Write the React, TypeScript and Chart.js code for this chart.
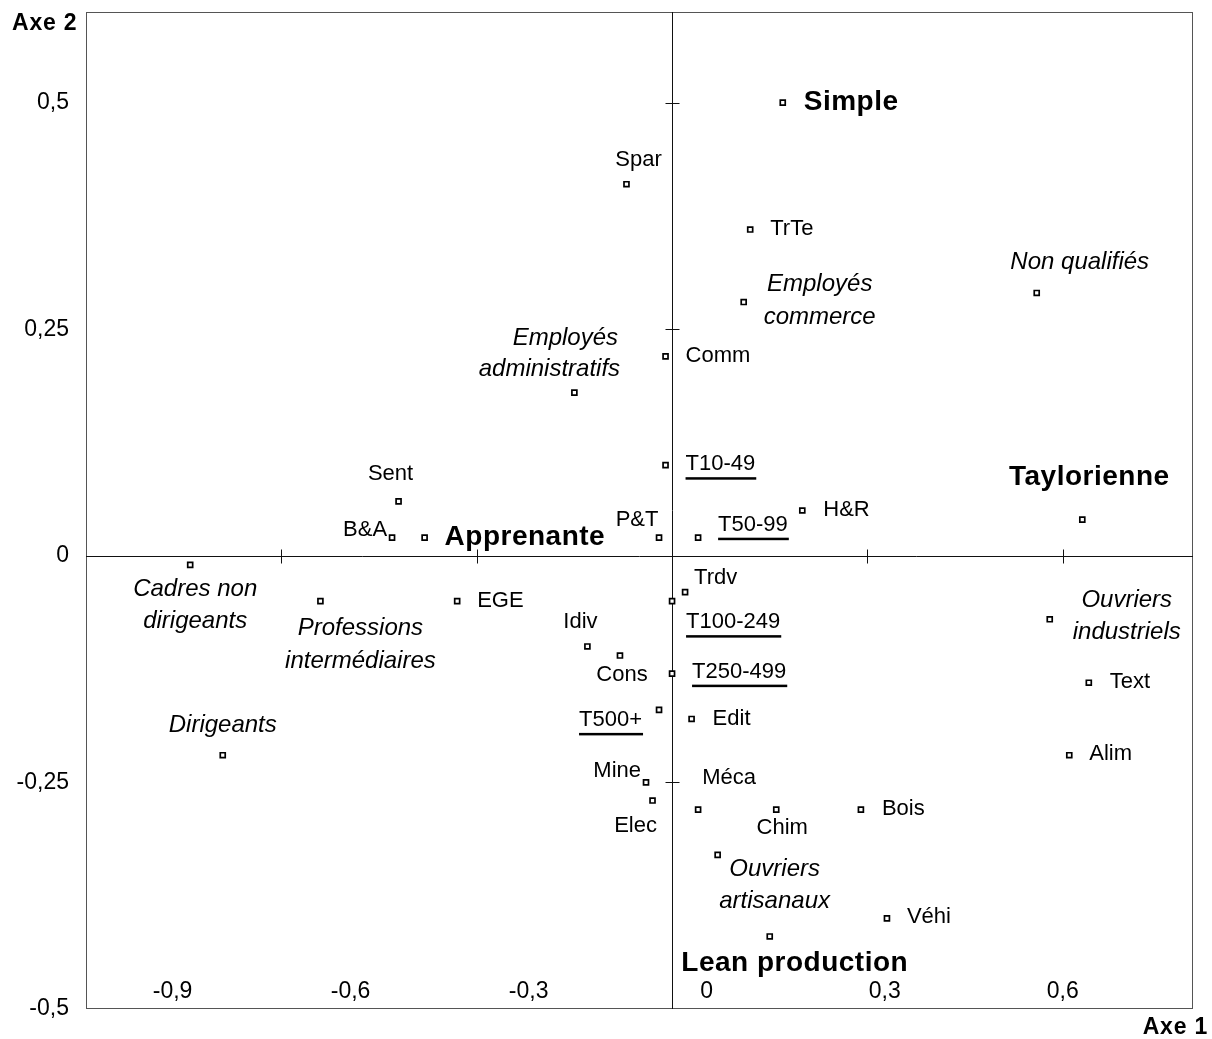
import React, { useEffect, useRef } from "react";
import { Chart, registerables } from "chart.js";

Chart.register(...registerables);

// ---------- DATA ----------
const POINT_NAMES = [
  "Simple", "Spar", "TrTe", "Employés\ncommerce", "Non qualifiés", "Comm",
  "Employés\nadministratifs", "T10-49", "Sent", "H&R", "Taylorienne", "T50-99",
  "P&T", "B&A", "Apprenante", "Cadres non\ndirigeants", "Trdv", "T100-249",
  "Professions\nintermédiaires", "EGE", "Idiv", "Cons", "T250-499",
  "Ouvriers\nindustriels", "Text", "T500+", "Edit", "Alim", "Dirigeants",
  "Mine", "Elec", "Méca", "Chim", "Bois", "Ouvriers\nartisanaux", "Véhi",
  "Lean production",
];

const AXE1_VALUES = [
  0.17, -0.07, 0.12, 0.11, 0.56, -0.01,
  -0.15, -0.01, -0.42, 0.20, 0.63, 0.04,
  -0.02, -0.43, -0.38, -0.74, 0.02, 0.00,
  -0.54, -0.33, -0.13, -0.08, 0.00,
  0.58, 0.64, -0.02, 0.03, 0.61, -0.69,
  -0.04, -0.03, 0.04, 0.16, 0.29, 0.07, 0.33,
  0.15,
];

const AXE2_VALUES = [
  0.50, 0.41, 0.36, 0.28, 0.29, 0.22,
  0.18, 0.10, 0.06, 0.05, 0.04, 0.02,
  0.02, 0.02, 0.02, -0.01, -0.04, -0.05,
  -0.05, -0.05, -0.10, -0.11, -0.13,
  -0.07, -0.14, -0.17, -0.18, -0.22, -0.22,
  -0.25, -0.27, -0.28, -0.28, -0.28, -0.33, -0.40,
  -0.42,
];

// kind of label: b = bold (organisation type), i = italic (occupation), u = underlined (size), n = plain (sector)
const POINT_KINDS = [
  "b", "n", "n", "i", "i", "n",
  "i", "u", "n", "n", "b", "u",
  "n", "n", "b", "i", "n", "u",
  "i", "n", "n", "n", "u",
  "i", "n", "u", "n", "n", "i",
  "n", "n", "n", "n", "n", "i", "n",
  "b",
];

const X_TICKS = [-0.9, -0.6, -0.3, 0, 0.3, 0.6];
const Y_TICKS = [-0.5, -0.25, 0, 0.25, 0.5];
const X_TICK_LABELS = ["-0,9", "-0,6", "-0,3", "0", "0,3", "0,6"];
const Y_TICK_LABELS = ["-0,5", "-0,25", "0", "0,25", "0,5"];
const X_AXIS_TITLE = "Axe 1";
const Y_AXIS_TITLE = "Axe 2";

// ---------- LAYOUT (label placement relative to markers, in px) ----------
type Lay = { dx: number; dy: number; align: CanvasTextAlign; lh?: number; lineDx?: number[] };
const LABEL_LAYOUT: Record<string, Lay> = {
  "Simple": { dx: 21, dy: 0, align: "left" },
  "Spar": { dx: 12, dy: -24, align: "center" },
  "TrTe": { dx: 20, dy: -1, align: "left" },
  "Employés\ncommerce": { dx: 76, dy: -18, align: "center", lh: 33 },
  "Non qualifiés": { dx: 43, dy: -31, align: "center" },
  "Comm": { dx: 20, dy: 0, align: "left" },
  "Employés\nadministratifs": { dx: 0, dy: -54, align: "center", lh: 31, lineDx: [-9, -25] },
  "T10-49": { dx: 20, dy: -1, align: "left" },
  "Sent": { dx: -8, dy: -27, align: "center" },
  "H&R": { dx: 21, dy: -1, align: "left" },
  "Taylorienne": { dx: 7, dy: -42, align: "center" },
  "T50-99": { dx: 20, dy: -13, align: "left" },
  "P&T": { dx: -22, dy: -18, align: "center" },
  "B&A": { dx: -5, dy: -8, align: "right" },
  "Apprenante": { dx: 20, dy: 0, align: "left" },
  "Cadres non\ndirigeants": { dx: 5, dy: 24, align: "center", lh: 32 },
  "Trdv": { dx: 9, dy: -14, align: "left" },
  "T100-249": { dx: 14, dy: 21, align: "left" },
  "Professions\nintermédiaires": { dx: 40, dy: 27, align: "center", lh: 33 },
  "EGE": { dx: 20, dy: 0, align: "left" },
  "Idiv": { dx: -7, dy: -25, align: "center" },
  "Cons": { dx: 2, dy: 19, align: "center" },
  "T250-499": { dx: 20, dy: -2, align: "left" },
  "Ouvriers\nindustriels": { dx: 77, dy: -19, align: "center", lh: 32 },
  "Text": { dx: 21, dy: -1, align: "left" },
  "T500+": { dx: -17, dy: 10, align: "right" },
  "Edit": { dx: 21, dy: 0, align: "left" },
  "Alim": { dx: 20, dy: -1, align: "left" },
  "Dirigeants": { dx: 0, dy: -30, align: "center" },
  "Mine": { dx: -5, dy: -11, align: "right" },
  "Elec": { dx: -17, dy: 25, align: "center" },
  "Méca": { dx: 31, dy: -32, align: "center" },
  "Chim": { dx: 6, dy: 18, align: "center" },
  "Bois": { dx: 21, dy: -1, align: "left" },
  "Ouvriers\nartisanaux": { dx: 57, dy: 14, align: "center", lh: 32 },
  "Véhi": { dx: 20, dy: -1, align: "left" },
  "Lean production": { dx: 25, dy: 27, align: "center" },
};

const FONT = '"Liberation Sans", Arial, Helvetica, sans-serif';

function fontFor(kind: string) {
  if (kind === "b") return `bold 28px ${FONT}`;
  if (kind === "i") return `italic 24px ${FONT}`;
  return `22px ${FONT}`;
}

const decorPlugin = {
  id: "decor",
  beforeDatasetsDraw(chart: any) {
    const { ctx, chartArea: a, scales } = chart;
    const xs = scales.x;
    const ys = scales.y;
    ctx.save();
    // plot border
    ctx.strokeStyle = "#555";
    ctx.lineWidth = 1;
    ctx.strokeRect(a.left + 0.5, a.top + 0.5, a.right - a.left - 1, a.bottom - a.top - 1);

    const x0 = Math.round(xs.getPixelForValue(0)) + 0.5;
    const y0 = Math.round(ys.getPixelForValue(0)) + 0.5;
    ctx.strokeStyle = "#111";
    ctx.beginPath();
    ctx.moveTo(x0, a.top);
    ctx.lineTo(x0, a.bottom);
    ctx.moveTo(a.left, y0);
    ctx.lineTo(a.right, y0);
    // tick marks (cross style)
    X_TICKS.forEach((v) => {
      const px = Math.round(xs.getPixelForValue(v)) + 0.5;
      if (px <= a.left + 2 || px >= a.right - 2) return;
      ctx.moveTo(px, y0 - 7);
      ctx.lineTo(px, y0 + 7);
    });
    Y_TICKS.forEach((v) => {
      const py = Math.round(ys.getPixelForValue(v)) + 0.5;
      if (py <= a.top + 2 || py >= a.bottom - 2) return;
      ctx.moveTo(x0 - 7, py);
      ctx.lineTo(x0 + 7, py);
    });
    ctx.stroke();

    // tick labels
    ctx.fillStyle = "#000";
    ctx.font = `23px ${FONT}`;
    ctx.textBaseline = "middle";
    ctx.textAlign = "right";
    Y_TICKS.forEach((v, i) => {
      ctx.fillText(Y_TICK_LABELS[i], a.left - 17, ys.getPixelForValue(v));
    });
    ctx.textAlign = "center";
    const anchor = xs.getPixelForValue(X_TICKS[X_TICKS.length - 1]);
    const k = 0.9114;
    X_TICKS.forEach((v, i) => {
      const px = xs.getPixelForValue(v) * k + anchor * (1 - k);
      ctx.fillText(X_TICK_LABELS[i], px, a.bottom - 17);
    });

    // axis titles
    ctx.font = `bold 23px ${FONT}`;
    (ctx as any).letterSpacing = "0.8px";
    ctx.textAlign = "left";
    ctx.fillText(Y_AXIS_TITLE, 12, 24);
    ctx.textAlign = "right";
    ctx.fillText(X_AXIS_TITLE, 1208, 1028);
    (ctx as any).letterSpacing = "0px";
    ctx.restore();
  },
  afterDatasetsDraw(chart: any) {
    const { ctx } = chart;
    const meta = chart.getDatasetMeta(0);
    ctx.save();
    ctx.fillStyle = "#000";
    ctx.textBaseline = "middle";
    meta.data.forEach((el: any, i: number) => {
      const name = POINT_NAMES[i];
      const kind = POINT_KINDS[i];
      const lay = LABEL_LAYOUT[name];
      if (!lay) return;
      ctx.font = fontFor(kind);
      (ctx as any).letterSpacing = kind === "b" ? "0.5px" : "0px";
      ctx.textAlign = lay.align;
      const lines = name.split("\n");
      lines.forEach((ln, j) => {
        const lx = el.x + (lay.lineDx ? lay.lineDx[j] : lay.dx);
        const ly = el.y + lay.dy + j * (lay.lh || 32);
        ctx.fillText(ln, lx, ly);
        if (kind === "u") {
          const w = ctx.measureText(ln).width;
          const x1 = lay.align === "left" ? lx : lay.align === "right" ? lx - w : lx - w / 2;
          ctx.fillRect(x1, ly + 13, w + 1, 2.5);
        }
      });
    });
    (ctx as any).letterSpacing = "0px";
    ctx.restore();
  },
};

export default function App() {
  const ref = useRef<HTMLCanvasElement>(null);
  useEffect(() => {
    if (!ref.current) return;
    const chart = new Chart(ref.current, {
      type: "scatter",
      data: {
        datasets: [
          {
            data: AXE1_VALUES.map((x, i) => ({ x, y: AXE2_VALUES[i] })),
            pointStyle: "rect",
            pointRadius: 3.5,
            pointBorderWidth: 1.7,
            borderColor: "#000",
            backgroundColor: "#fff",
            pointBackgroundColor: "#fff",
            pointBorderColor: "#000",
          } as any,
        ],
      },
      options: {
        responsive: false,
        animation: false,
        devicePixelRatio: 1,
        events: [],
        layout: { padding: { left: 86, top: 12, right: 19, bottom: 30 } },
        plugins: { legend: { display: false }, tooltip: { enabled: false } },
        scales: {
          x: { type: "linear", min: -0.9, max: 0.8, display: false },
          y: { type: "linear", min: -0.5, max: 0.6, display: false },
        },
      },
      plugins: [decorPlugin],
    });
    return () => chart.destroy();
  }, []);
  return (
    <div style={{ position: "fixed", left: 0, top: 0, width: 1212, height: 1039, background: "#fff" }}>
      <canvas ref={ref} width={1212} height={1039} style={{ display: "block", width: 1212, height: 1039 }} />
    </div>
  );
}
